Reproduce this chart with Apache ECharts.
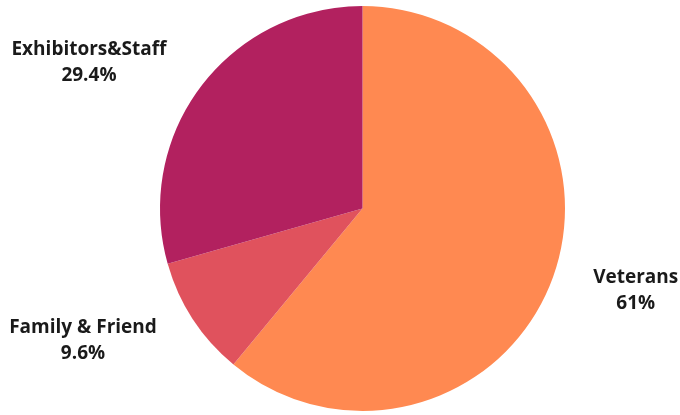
<!DOCTYPE html>
<html>
<head>
<meta charset="utf-8">
<script src="https://cdn.jsdelivr.net/npm/echarts@6/dist/echarts.min.js"></script>
<style>html,body{margin:0;padding:0;background:#fff}#c{width:680px;height:415px}</style>
</head>
<body>
<div id="c"></div>
<script>
const categories = ['Veterans', 'Family & Friend', 'Exhibitors&Staff'];
const values = [61, 9.6, 29.4];
const colors = ['#FF8951', '#E0525D', '#B2215F'];

const chart = echarts.init(document.getElementById('c'), null, {renderer: 'canvas'});
chart.setOption({
  animation: false,
  series: [{
    type: 'pie',
    center: [362.5, 208.5],
    radius: 202.5,
    startAngle: 90,
    clockwise: true,
    avoidLabelOverlap: false,
    data: categories.map((c, i) => ({name: c, value: values[i], itemStyle: {color: colors[i]}})),
    label: {
      show: true,
      position: 'outside',
      formatter: p => '{a|' + p.name + '}\n{a|' + p.value + '%}',
      distanceToLabelLine: 3,
      rich: {
        a: {
          fontFamily: 'Open Sans',
          fontWeight: 'bold',
          fontSize: 19,
          color: '#1a1a1a',
          align: 'center',
          lineHeight: 26
        }
      }
    },
    labelLine: { show: false, length: 39.5, length2: 0 },
    emphasis: { disabled: true }
  }]
});
</script>
</body>
</html>
